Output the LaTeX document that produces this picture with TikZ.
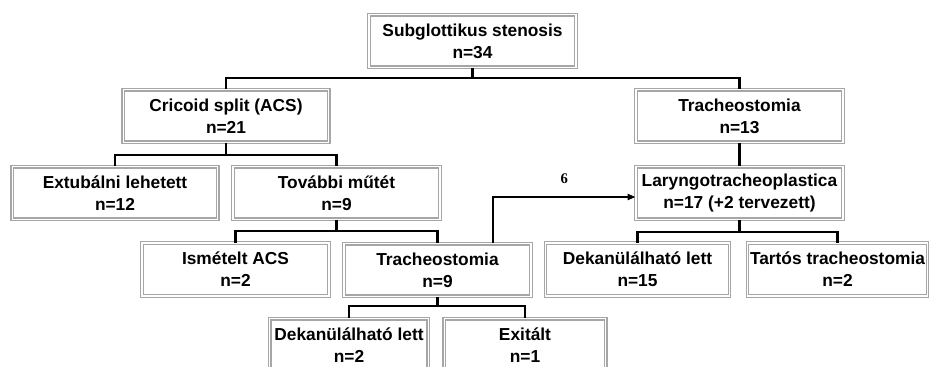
\documentclass[tikz,border=0pt]{standalone}
\usepackage{fontspec}
\setmainfont{Liberation Sans}
\newfontfamily\numfont{Liberation Serif}
\usetikzlibrary{arrows.meta}

\begin{document}
\begin{tikzpicture}[x=0.75pt,y=-0.75pt,
  box/.style={draw=gray!70,double=white,double distance=1.2pt,line width=0.8pt,fill=white,align=center,minimum height=39.5pt,inner sep=1pt,font=\fontsize{13}{16.5}\selectfont\bfseries},
  link/.style={line width=1.6pt}]
  \clip (0,0) rectangle (933,367);
  \node[box,minimum width=155pt] (top) at (472.5,41) {Subglottikus stenosis\\n=34};

  \node[box,minimum width=154pt] (acs) at (226,116) {Cricoid split (ACS)\\n=21};
  \node[box,minimum width=155pt] (trachA) at (739.5,116) {Tracheostomia\\n=13};

  \node[box,minimum width=154pt] (extub) at (115,193) {Extubálni lehetett\\n=12};
  \node[box,minimum width=155pt] (tovabbi) at (336.5,193) {További műtét\\n=9};
  \node[box,minimum width=155pt] (laryngo) at (739.5,193) {Laryngotracheoplastica\\n=17 (+2 tervezett)};

  \node[box,minimum width=140pt] (ismACS) at (235.5,269.5) {Ismételt ACS\\n=2};
  \node[box,minimum width=140pt] (trachB) at (437.5,270) {Tracheostomia\\n=9};
  \node[box,minimum width=138pt] (dekanA) at (637.5,269.5) {Dekanülálható lett\\n=15};
  \node[box,minimum width=135pt] (tartos) at (837.5,269.5) {Tartós tracheostomia\\n=2};

  \node[box,minimum width=119pt] (dekanB) at (349,345) {Dekanülálható lett\\n=2};
  \node[box,minimum width=121pt] (exit) at (525,345) {Exitált\\n=1};

  \draw[link] (top.south) -- ++(0,10) -| (acs.north);
  \draw[link] (top.south) -- ++(0,10) -| (trachA.north);
  \draw[link] (acs.south) -- ++(0,12) -| (extub.north);
  \draw[link] (acs.south) -- ++(0,12) -| (tovabbi.north);
  \draw[link] (trachA) -- (laryngo);
  \draw[link] (tovabbi.south) -- ++(0,11) -| (ismACS.north);
  \draw[link] (tovabbi.south) -- ++(0,11) -| (trachB.north);
  \draw[link] (laryngo.south) -- ++(0,12) -| (dekanA.north);
  \draw[link] (laryngo.south) -- ++(0,12) -| (tartos.north);
  \draw[link] (trachB.south) -- ++(0,9) -| (dekanB.north);
  \draw[link] (trachB.south) -- ++(0,9) -| (exit.north);

  \coordinate (bend) at (493,197);
  \draw[link,-{Triangle[length=6pt,width=4.5pt]}] (trachB.north -| bend) -- (bend)
    -- node[above=6pt,font=\numfont\fontsize{11}{13}\selectfont\bfseries] (six) {6} (laryngo.west |- bend);
\end{tikzpicture}
\end{document}
